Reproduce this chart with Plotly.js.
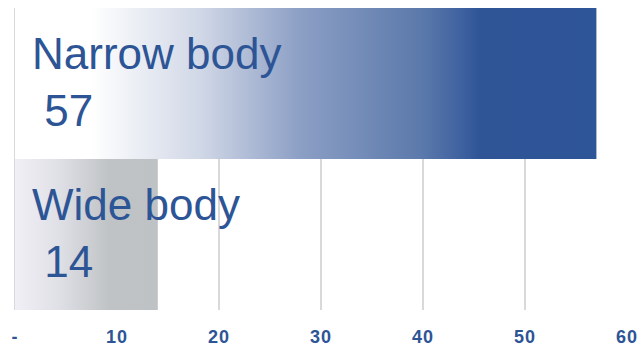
<!DOCTYPE html>
<html>
<head>
<meta charset="utf-8">
<script src="https://cdn.plot.ly/plotly-3.0.1.min.js"></script>
<style>
  html, body { margin: 0; padding: 0; background: #ffffff; }
  #chart { width: 640px; height: 347px; }
  #chart .xtick text { letter-spacing: 1px; }
</style>
</head>
<body>
<div id="chart"></div>
<script>
// Fleet split by aircraft body type
const categories = ['Narrow body', 'Wide body'];
const values = [57, 14];
const tickValues = [0, 10, 20, 30, 40, 50, 60];
const tickLabels = ['-', '10', '20', '30', '40', '50', '60'];

// Horizontal gradient of each bar (colorscale across the bar's length)
const barGradients = [
  [[0, '#ffffff'], [0.13, '#ffffff'], [0.32, '#d0d7e6'], [0.49, '#8c9fc5'],
   [0.70, '#5b79ab'], [0.76, '#4264a1'], [0.80, '#2f5597'], [1, '#2e5597']],
  [[0, '#f0eff5'], [0.31, '#dfe0e6'], [0.55, '#caccd0'], [0.66, '#bfc3c5'], [1, '#bec2c4']]
];

const textBlue = '#2d5596';

// First category sits at the top: row index counts down from the top
const n = categories.length;
const traces = categories.map((cat, i) => {
  const row = n - 1 - i;
  const v = values[i];
  return {
    type: 'scatter',
    mode: 'none',
    x: [0, v, v, 0, 0],
    y: [row - 0.5, row - 0.5, row + 0.5, row + 0.5, row - 0.5],
    fill: 'toself',
    fillgradient: { type: 'horizontal', colorscale: barGradients[i] },
    hoverinfo: 'skip',
    showlegend: false
  };
});

const annotations = categories.map((cat, i) => ({
  xref: 'x', yref: 'y',
  x: 1.45, y: n - 1 - i,
  xanchor: 'left', yanchor: 'middle',
  yshift: 2,
  align: 'left',
  showarrow: false,
  text: cat + '<br>\u00a0' + values[i],
  font: { family: 'Liberation Sans, Arial, sans-serif', size: 44, color: textBlue }
}));

const layout = {
  width: 640, height: 347,
  margin: { l: 15, r: 13, t: 8, b: 37, pad: 0 },
  paper_bgcolor: '#ffffff',
  plot_bgcolor: '#ffffff',
  showlegend: false,
  xaxis: {
    range: [0, 60],
    tickmode: 'array',
    tickvals: tickValues,
    ticktext: tickLabels,
    showgrid: true,
    gridcolor: '#d9d9d9',
    gridwidth: 2,
    zeroline: true,
    zerolinecolor: '#d9d9d9',
    zerolinewidth: 2,
    showline: false,
    ticks: '',
    ticklabelstandoff: 14,
    tickfont: { family: 'Liberation Sans, Arial, sans-serif', size: 18, color: textBlue, weight: 'bold' },
    fixedrange: true
  },
  yaxis: {
    range: [-0.5, n - 0.5],
    showgrid: false,
    zeroline: false,
    showline: false,
    showticklabels: false,
    ticks: '',
    fixedrange: true
  },
  annotations: annotations
};

Plotly.newPlot('chart', traces, layout, { displayModeBar: false, staticPlot: true });
</script>
</body>
</html>
